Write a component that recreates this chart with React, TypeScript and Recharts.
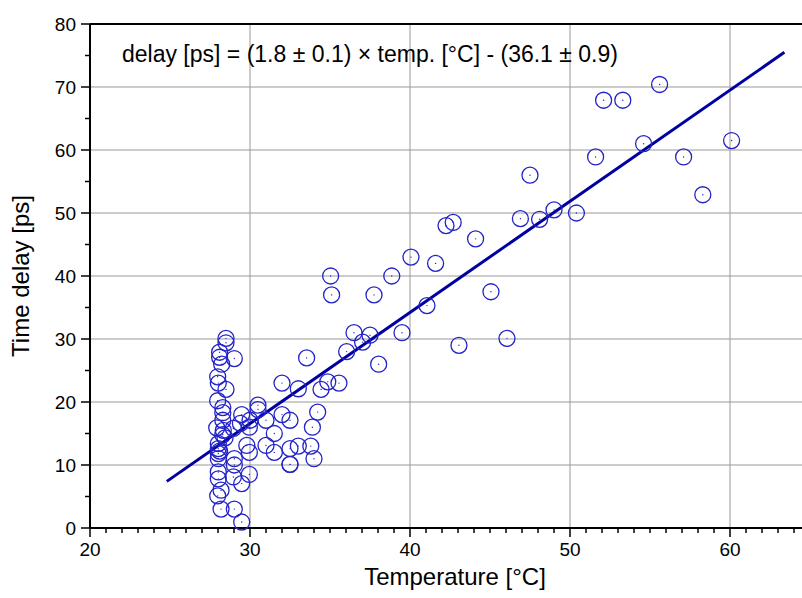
import { ComposedChart, Scatter, Line, XAxis, YAxis, ReferenceLine, Label } from 'recharts'

const TEMP = [
  55.6, 52.1, 53.3, 54.6, 60.1, 51.6, 57.1, 58.3, 50.4, 49.0,
  47.5, 46.9, 48.1, 42.7, 42.25, 44.1, 40.06, 41.6, 38.86, 35.04,
  35.1, 37.75, 45.06, 41.06, 39.5, 43.06, 46.06, 36.5, 37.5, 37.04,
  36.04, 33.54, 38.04, 34.86, 35.56, 33.02, 34.44, 34.23, 33.9, 33.02,
  33.8, 34.0, 32.5, 28.5, 28.5, 28.1, 28.1, 28.23, 29.02, 27.98,
  28.02, 28.5, 32.0, 27.98, 28.3, 28.3, 28.3, 30.5, 30.5, 29.48,
  31.0, 32.0, 32.5, 31.52, 27.92, 28.33, 28.96, 29.4, 30.0, 29.96,
  28.44, 28.02, 28.02, 28.02, 28.02, 29.02, 29.02, 29.8, 29.96, 31.0,
  31.52, 32.5, 32.5, 28.02, 28.02, 28.96, 29.48, 29.96, 28.19, 27.98,
  28.19, 29.02, 29.48, 28.3, 28.1,
]
const DELAY = [
  70.4, 67.9, 67.9, 61.0, 61.5, 58.9, 58.9, 52.9, 50.0, 50.5,
  56.0, 49.1, 49.0, 48.5, 48.0, 45.9, 43.0, 42.0, 40.0, 40.0,
  37.0, 37.0, 37.5, 35.3, 31.0, 29.0, 30.1, 31.0, 30.6, 29.5,
  28.0, 27.0, 26.0, 23.2, 23.0, 22.1, 22.0, 18.4, 16.0, 13.0,
  13.0, 11.0, 10.1, 30.1, 29.4, 27.9, 27.1, 26.0, 26.9, 24.0,
  23.0, 22.0, 23.0, 20.2, 19.1, 18.3, 17.1, 19.5, 18.8, 18.0,
  17.1, 18.0, 17.1, 15.0, 15.9, 15.5, 15.8, 16.6, 17.1, 16.0,
  14.3, 13.4, 12.6, 11.8, 11.0, 11.0, 10.0, 13.1, 12.0, 13.1,
  12.0, 12.6, 10.1, 8.9, 7.8, 8.1, 7.05, 8.5, 6.0, 5.1,
  3.0, 3.0, 0.95, 14.8, 12.2,
]

// fitted line
const FIT_TEMP = [24.8, 63.4]
const FIT_DELAY = [7.4, 75.5]

const X_TICKS = Array.from({ length: 46 }, (_, i) => 20 + i)
const Y_TICKS = [0, 5, 10, 15, 20, 25, 30, 35, 40, 45, 50, 55, 60, 65, 70, 75, 80]
const GRID_X = [30, 40, 50, 60]
const GRID_Y = [10, 20, 30, 40, 50, 60, 70]

const points = TEMP.map((t, i) => ({ x: t, y: DELAY[i] }))
const fit = FIT_TEMP.map((t, i) => ({ x: t, y: FIT_DELAY[i] }))

const FONT = 'Arial, "Liberation Sans", sans-serif'
const BLUE = '#2323c8'

const XTick = ({ x, y, payload }: any) => {
  const major = payload.value % 10 === 0
  return (
    <g>
      <line x1={x} x2={x} y1={y} y2={y + (major ? 9 : 5)} stroke="#000" strokeWidth={1.5} />
      {major && (
        <text x={x} y={y + 28} textAnchor="middle" fontSize={19} fontFamily={FONT} fill="#000">
          {payload.value}
        </text>
      )}
    </g>
  )
}

const YTick = ({ x, y, payload }: any) => {
  const major = payload.value % 10 === 0
  return (
    <g>
      <line x1={x} x2={x - (major ? 9 : 5)} y1={y} y2={y} stroke="#000" strokeWidth={1.5} />
      {major && (
        <text x={x - 14} y={y + 7} textAnchor="end" fontSize={19} fontFamily={FONT} fill="#000">
          {payload.value}
        </text>
      )}
    </g>
  )
}

const Ring = ({ cx, cy }: any) => (
  <g>
    <circle cx={cx} cy={cy} r={8} fill="none" stroke={BLUE} strokeWidth={1.3} />
    <circle cx={cx} cy={cy} r={0.7} fill={BLUE} />
  </g>
)

export default function App() {
  return (
    <div style={{ position: 'fixed', left: 0, top: 0, width: 802, height: 598, overflow: 'hidden', background: '#fff' }}>
      <ComposedChart width={830} height={598} margin={{ top: 24, right: 20, bottom: 20, left: 30 }}>
        {GRID_X.map((v) => (
          <ReferenceLine key={'gx' + v} x={v} stroke="#999" strokeWidth={1} />
        ))}
        {GRID_Y.map((v) => (
          <ReferenceLine key={'gy' + v} y={v} stroke="#999" strokeWidth={1} />
        ))}
        <XAxis
          dataKey="x" type="number" domain={[20, 65]} allowDataOverflow
          ticks={X_TICKS} interval={0} tickSize={0} tickMargin={0} tickLine={false}
          tick={<XTick />} height={50}
          axisLine={{ stroke: '#000', strokeWidth: 2 }}
        >
          <Label
            content={({ viewBox }: any) => (
              <text x={viewBox.x + viewBox.width / 2 + 5} y={viewBox.y + 57} textAnchor="middle" fontSize={24} fontFamily={FONT} fill="#000">
                Temperature [°C]
              </text>
            )}
          />
        </XAxis>
        <XAxis
          xAxisId="top" orientation="top" mirror dataKey="x" type="number" domain={[20, 65]} allowDataOverflow
          ticks={GRID_X} interval={0} tickSize={8} tick={false}
          tickLine={{ stroke: '#000', strokeWidth: 1.5 }}
          axisLine={{ stroke: '#000', strokeWidth: 2 }}
        />
        <YAxis
          type="number" domain={[0, 80]} ticks={Y_TICKS} interval={0} width={60}
          tickSize={0} tickMargin={0} tickLine={false} tick={<YTick />}
          axisLine={{ stroke: '#000', strokeWidth: 2 }}
        >
          <Label
            content={({ viewBox }: any) => {
              const cx = viewBox.x - 10
              const cy = viewBox.y + viewBox.height / 2
              return (
                <text x={cx} y={cy} transform={`rotate(-90 ${cx} ${cy})`} textAnchor="middle" dominantBaseline="central" fontSize={24} fontFamily={FONT} fill="#000">
                  Time delay [ps]
                </text>
              )
            }}
          />
        </YAxis>
        <Scatter data={points} dataKey="y" shape={<Ring />} isAnimationActive={false} />
        <Line data={fit} dataKey="y" type="linear" stroke="#0000a0" strokeWidth={3} dot={false} activeDot={false} isAnimationActive={false} />
      </ComposedChart>
      <div style={{ position: 'absolute', left: 122, top: 41, fontFamily: FONT, fontSize: 23, color: '#000', whiteSpace: 'nowrap' }}>
        delay [ps] = (1.8 ± 0.1) × temp. [°C] - (36.1 ± 0.9)
      </div>
    </div>
  )
}
